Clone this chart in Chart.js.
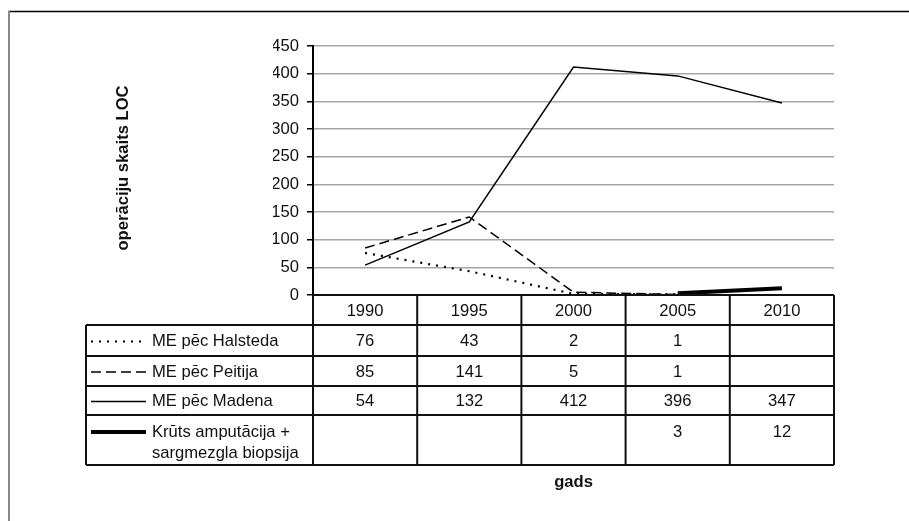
<!DOCTYPE html>
<html>
<head>
<meta charset="utf-8">
<script src="https://cdn.jsdelivr.net/npm/chart.js@4/dist/chart.umd.min.js"></script>
<style>
  html, body { margin: 0; padding: 0; background: #fff; }
  canvas { display: block; }
</style>
</head>
<body>
<canvas id="chart" width="909" height="521"></canvas>
<script>
const years = ['1990', '1995', '2000', '2005', '2010'];
const seriesNames = ['ME pēc Halsteda', 'ME pēc Peitija', 'ME pēc Madena', 'Krūts amputācija + sargmezgla biopsija'];
const halsteda = [76, 43, 2, 1, null];
const peitija = [85, 141, 5, 1, null];
const madena = [54, 132, 412, 396, 347];
const amputacija = [null, null, null, 3, 12];
const yTicks = [0, 50, 100, 150, 200, 250, 300, 350, 400, 450];
const yTitle = 'operāciju skaits LOC';
const xTitle = 'gads';

const FONT = '"Liberation Sans", Arial, sans-serif';
const FSIZE = 16.6;

function lineSet(label, data, width, dash) {
    return {
        label: label,
        data: data,
        borderColor: '#000',
        borderWidth: width,
        borderDash: dash,
        pointRadius: 0,
        pointHoverRadius: 0,
        fill: false,
        tension: 0
    };
}

// draws the frame, the axis titles and the data table under the plot
const dataTable = {
    id: 'dataTable',
    afterDraw(chart) {
        const ctx = chart.ctx;
        const area = chart.chartArea;
        const xs = chart.scales.x;
        const step = (area.right - area.left) / years.length;
        const top = area.bottom;
        const rows = [top, top + 30, top + 61, top + 91, top + 120, top + 170];
        const legLeft = 86;

        ctx.save();

        // outer frame (top and left only are visible)
        ctx.strokeStyle = '#000';
        ctx.lineWidth = 1.5;
        ctx.beginPath();
        ctx.moveTo(8, 11.5);
        ctx.lineTo(909, 11.5);
        ctx.stroke();
        ctx.strokeStyle = '#888';
        ctx.lineWidth = 2;
        ctx.beginPath();
        ctx.moveTo(9, 11);
        ctx.lineTo(9, 521);
        ctx.stroke();

        // table grid
        ctx.strokeStyle = '#111';
        ctx.lineWidth = 2;
        ctx.beginPath();
        ctx.moveTo(area.left, rows[0]);
        ctx.lineTo(area.right, rows[0]);
        for (let r = 1; r < rows.length; r++) {
            ctx.moveTo(legLeft, rows[r]);
            ctx.lineTo(area.right, rows[r]);
        }
        for (let c = 0; c <= years.length; c++) {
            const x = area.left + c * step;
            ctx.moveTo(x, rows[0]);
            ctx.lineTo(x, rows[rows.length - 1]);
        }
        ctx.moveTo(legLeft, rows[1]);
        ctx.lineTo(legLeft, rows[rows.length - 1]);
        ctx.stroke();

        ctx.fillStyle = '#111';
        ctx.font = FSIZE + 'px ' + FONT;
        ctx.textAlign = 'center';
        ctx.textBaseline = 'middle';
        years.forEach((y, i) => {
            ctx.fillText(y, xs.getPixelForValue(i), (rows[0] + rows[1]) / 2 + 1);
        });

        chart.data.datasets.forEach((ds, r) => {
            const lineH = 21;
            const single = r < 3;
            const cy = single ? (rows[r + 1] + rows[r + 2]) / 2 + 1 : rows[r + 1] + 17;

            // legend swatch
            ctx.save();
            ctx.strokeStyle = '#000';
            ctx.lineWidth = ds.borderWidth;
            ctx.setLineDash(ds.borderDash || []);
            ctx.beginPath();
            ctx.moveTo(91, cy);
            ctx.lineTo(146, cy);
            ctx.stroke();
            ctx.restore();

            // legend text, wrapped
            ctx.textAlign = 'left';
            const words = ds.label.split(' ');
            const lines = [];
            let cur = '';
            words.forEach(w => {
                const t = cur ? cur + ' ' + w : w;
                if (ctx.measureText(t).width > 158 && cur) {
                    lines.push(cur);
                    cur = w;
                } else {
                    cur = t;
                }
            });
            lines.push(cur);
            lines.forEach((l, k) => ctx.fillText(l, 152, cy + k * lineH));

            ctx.textAlign = 'center';
            ds.data.forEach((v, i) => {
                if (v !== null) ctx.fillText(String(v), xs.getPixelForValue(i), cy);
            });
        });

        // axis titles
        ctx.font = 'bold ' + FSIZE + 'px ' + FONT;
        ctx.textAlign = 'center';
        ctx.fillText(xTitle, (area.left + area.right) / 2, 482);
        ctx.translate(123, 168);
        ctx.rotate(-Math.PI / 2);
        ctx.fillText(yTitle, 0, 0);

        ctx.restore();
    }
};

new Chart(document.getElementById('chart'), {
    type: 'line',
    data: {
        labels: years,
        datasets: [
            lineSet(seriesNames[0], halsteda, 2.2, [2, 6]),
            lineSet(seriesNames[1], peitija, 1.5, [10, 5]),
            lineSet(seriesNames[2], madena, 1.5, []),
            lineSet(seriesNames[3], amputacija, 4, [])
        ]
    },
    options: {
        responsive: false,
        devicePixelRatio: 1,
        animation: false,
        layout: {
            padding: { left: 273, top: 46, right: 75, bottom: 226 }
        },
        plugins: {
            legend: { display: false },
            tooltip: { enabled: false }
        },
        scales: {
            x: {
                type: 'category',
                offset: true,
                display: false
            },
            y: {
                min: 0,
                max: 450,
                afterBuildTicks: scale => {
                    scale.ticks = yTicks.map(v => ({ value: v }));
                },
                afterFit: scale => {
                    scale.width = 40;
                },
                ticks: {
                    color: '#111',
                    padding: 8,
                    font: { family: FONT, size: FSIZE }
                },
                grid: {
                    color: '#a6a6a6',
                    lineWidth: 1.5,
                    tickColor: '#000',
                    tickLength: 6
                },
                border: { color: '#000', width: 2 }
            }
        }
    },
    plugins: [dataTable]
});
</script>
</body>
</html>
